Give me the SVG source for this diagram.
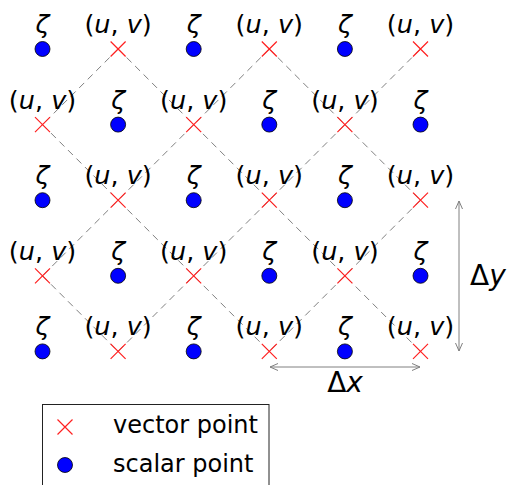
<svg xmlns="http://www.w3.org/2000/svg" width="510" height="485" viewBox="0 0 510 485">
<style>
text{font-family:"DejaVu Sans","Liberation Sans",sans-serif;font-size:25.5px;fill:#000;text-anchor:middle}
.i{font-style:italic}
.dot{fill:#0000ff;stroke:#000;stroke-width:0.8}
.x{stroke:#ff2020;stroke-width:1.2;fill:none}
.dash{stroke:#808080;stroke-width:1;stroke-dasharray:7 5;fill:none}
.dim{stroke:#808080;stroke-width:1;fill:none}
.leg{text-anchor:start;font-size:24px}
.d{font-size:28px}
</style>
<defs>
<g id="cr"><path class="x" d="M-7.5,-7.5L7.5,7.5M-7.5,7.5L7.5,-7.5"/></g>
<marker id="ah" viewBox="0 0 10 10" refX="9" refY="5" markerWidth="10" markerHeight="10" markerUnits="userSpaceOnUse" orient="auto-start-reverse">
<path d="M1,1.5L9,5L1,8.5" fill="none" stroke="#808080" stroke-width="1"/>
</marker>
</defs>
<g id="connectors">
<line class="dash" x1="118.1" y1="49" x2="420.5" y2="351.4"/>
<line class="dash" x1="269.3" y1="49" x2="420.5" y2="200.2"/>
<line class="dash" x1="42.5" y1="124.6" x2="269.3" y2="351.4"/>
<line class="dash" x1="42.5" y1="275.8" x2="118.1" y2="351.4"/>
<line class="dash" x1="118.1" y1="49" x2="42.5" y2="124.6"/>
<line class="dash" x1="269.3" y1="49" x2="42.5" y2="275.8"/>
<line class="dash" x1="420.5" y1="49" x2="118.1" y2="351.4"/>
<line class="dash" x1="420.5" y1="200.2" x2="269.3" y2="351.4"/>
<line class="dim" x1="459" y1="201" x2="459" y2="351" marker-start="url(#ah)" marker-end="url(#ah)"/>
<line class="dim" x1="270" y1="367" x2="420" y2="367" marker-start="url(#ah)" marker-end="url(#ah)"/>
</g>
<!-- row 0 -->
<g id="n00"><circle class="dot" cx="42.5" cy="49" r="7.5"/><text x="42.5" y="33" class="i">ζ</text></g>
<g id="n01"><use href="#cr" x="118.1" y="49"/><text x="118.1" y="33">(<tspan class="i">u</tspan>, <tspan class="i">v</tspan>)</text></g>
<g id="n02"><circle class="dot" cx="193.7" cy="49" r="7.5"/><text x="193.7" y="33" class="i">ζ</text></g>
<g id="n03"><use href="#cr" x="269.3" y="49"/><text x="269.3" y="33">(<tspan class="i">u</tspan>, <tspan class="i">v</tspan>)</text></g>
<g id="n04"><circle class="dot" cx="344.9" cy="49" r="7.5"/><text x="344.9" y="33" class="i">ζ</text></g>
<g id="n05"><use href="#cr" x="420.5" y="49"/><text x="420.5" y="33">(<tspan class="i">u</tspan>, <tspan class="i">v</tspan>)</text></g>
<!-- row 1 -->
<g id="n10"><use href="#cr" x="42.5" y="124.6"/><text x="42.5" y="108.6">(<tspan class="i">u</tspan>, <tspan class="i">v</tspan>)</text></g>
<g id="n11"><circle class="dot" cx="118.1" cy="124.6" r="7.5"/><text x="118.1" y="108.6" class="i">ζ</text></g>
<g id="n12"><use href="#cr" x="193.7" y="124.6"/><text x="193.7" y="108.6">(<tspan class="i">u</tspan>, <tspan class="i">v</tspan>)</text></g>
<g id="n13"><circle class="dot" cx="269.3" cy="124.6" r="7.5"/><text x="269.3" y="108.6" class="i">ζ</text></g>
<g id="n14"><use href="#cr" x="344.9" y="124.6"/><text x="344.9" y="108.6">(<tspan class="i">u</tspan>, <tspan class="i">v</tspan>)</text></g>
<g id="n15"><circle class="dot" cx="420.5" cy="124.6" r="7.5"/><text x="420.5" y="108.6" class="i">ζ</text></g>
<!-- row 2 -->
<g id="n20"><circle class="dot" cx="42.5" cy="200.2" r="7.5"/><text x="42.5" y="184.2" class="i">ζ</text></g>
<g id="n21"><use href="#cr" x="118.1" y="200.2"/><text x="118.1" y="184.2">(<tspan class="i">u</tspan>, <tspan class="i">v</tspan>)</text></g>
<g id="n22"><circle class="dot" cx="193.7" cy="200.2" r="7.5"/><text x="193.7" y="184.2" class="i">ζ</text></g>
<g id="n23"><use href="#cr" x="269.3" y="200.2"/><text x="269.3" y="184.2">(<tspan class="i">u</tspan>, <tspan class="i">v</tspan>)</text></g>
<g id="n24"><circle class="dot" cx="344.9" cy="200.2" r="7.5"/><text x="344.9" y="184.2" class="i">ζ</text></g>
<g id="n25"><use href="#cr" x="420.5" y="200.2"/><text x="420.5" y="184.2">(<tspan class="i">u</tspan>, <tspan class="i">v</tspan>)</text></g>
<!-- row 3 -->
<g id="n30"><use href="#cr" x="42.5" y="275.8"/><text x="42.5" y="259.8">(<tspan class="i">u</tspan>, <tspan class="i">v</tspan>)</text></g>
<g id="n31"><circle class="dot" cx="118.1" cy="275.8" r="7.5"/><text x="118.1" y="259.8" class="i">ζ</text></g>
<g id="n32"><use href="#cr" x="193.7" y="275.8"/><text x="193.7" y="259.8">(<tspan class="i">u</tspan>, <tspan class="i">v</tspan>)</text></g>
<g id="n33"><circle class="dot" cx="269.3" cy="275.8" r="7.5"/><text x="269.3" y="259.8" class="i">ζ</text></g>
<g id="n34"><use href="#cr" x="344.9" y="275.8"/><text x="344.9" y="259.8">(<tspan class="i">u</tspan>, <tspan class="i">v</tspan>)</text></g>
<g id="n35"><circle class="dot" cx="420.5" cy="275.8" r="7.5"/><text x="420.5" y="259.8" class="i">ζ</text></g>
<!-- row 4 -->
<g id="n40"><circle class="dot" cx="42.5" cy="351.4" r="7.5"/><text x="42.5" y="335.4" class="i">ζ</text></g>
<g id="n41"><use href="#cr" x="118.1" y="351.4"/><text x="118.1" y="335.4">(<tspan class="i">u</tspan>, <tspan class="i">v</tspan>)</text></g>
<g id="n42"><circle class="dot" cx="193.7" cy="351.4" r="7.5"/><text x="193.7" y="335.4" class="i">ζ</text></g>
<g id="n43"><use href="#cr" x="269.3" y="351.4"/><text x="269.3" y="335.4">(<tspan class="i">u</tspan>, <tspan class="i">v</tspan>)</text></g>
<g id="n44"><circle class="dot" cx="344.9" cy="351.4" r="7.5"/><text x="344.9" y="335.4" class="i">ζ</text></g>
<g id="n45"><use href="#cr" x="420.5" y="351.4"/><text x="420.5" y="335.4">(<tspan class="i">u</tspan>, <tspan class="i">v</tspan>)</text></g>
<!-- dimension labels -->
<g id="dy"><text x="470" y="285" class="d" style="text-anchor:start">Δ<tspan class="i">y</tspan></text></g>
<g id="dx"><text x="345" y="392" class="d">Δ<tspan class="i">x</tspan></text></g>
<!-- legend -->
<g id="legend">
<rect x="42.5" y="404.5" width="226.5" height="90" fill="#fff" stroke="#222" stroke-width="1"/>
<use href="#cr" x="65" y="427"/>
<text x="113" y="433" class="leg">vector point</text>
<circle class="dot" cx="65" cy="465" r="7.5"/>
<text x="113" y="472" class="leg">scalar point</text>
</g>
</svg>
